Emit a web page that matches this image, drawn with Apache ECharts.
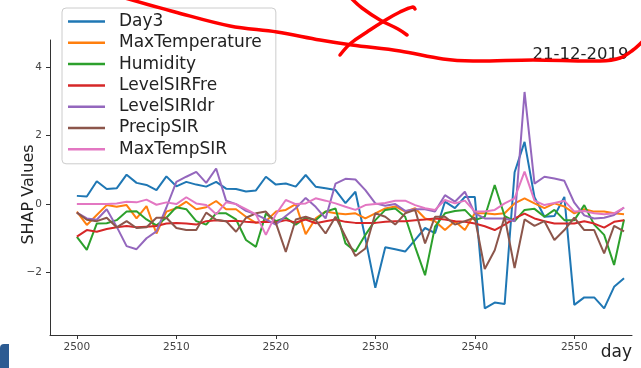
<!DOCTYPE html>
<html>
<head>
<meta charset="utf-8">
<script src="https://cdn.jsdelivr.net/npm/echarts@6/dist/echarts.min.js"></script>
<style>
  html, body { margin: 0; padding: 0; background: #fff; }
  #chart { width: 641px; height: 368px; }
</style>
</head>
<body>
<div id="chart"></div>
<script>
// Days on the horizontal axis (2500 .. 2555)
const firstDay = 2500;
const dayCount = 56;
const days = [];
for (let i = 0; i < dayCount; i++) days.push(firstDay + i);

const seriesNames = ['Day3', 'MaxTemperature', 'Humidity', 'LevelSIRFre', 'LevelSIRIdr', 'PrecipSIR', 'MaxTempSIR'];
const seriesColors = ['#1f77b4', '#ff7f0e', '#2ca02c', '#d62728', '#9467bd', '#8c564b', '#e377c2'];

const day3 = [0.24, 0.22, 0.67, 0.44, 0.46, 0.86, 0.62, 0.56, 0.41, 0.81,
  0.52, 0.65, 0.57, 0.51, 0.65, 0.45, 0.44, 0.37, 0.40, 0.80,
  0.57, 0.60, 0.51, 0.85, 0.51, 0.46, 0.41, 0.03, 0.36, -1.0,
  -2.45, -1.26, -1.32, -1.39, -1.05, -0.70, -0.85, 0.07, -0.12, 0.21,
  0.21, -3.05, -2.88, -2.92, 0.93, 1.82, 0.20, -0.37, -0.35, 0.21,
  -2.95, -2.73, -2.73, -3.05, -2.42, -2.17];

const maxTemperature = [-0.22, -0.61, -0.32, -0.03, -0.08, -0.03, -0.42, -0.06, -0.86, -0.22,
  -0.12, 0.07, -0.15, -0.09, 0.09, -0.15, -0.15, -0.37, -0.55, -0.50,
  -0.22, -0.17, 0.00, -0.88, -0.42, -0.22, -0.27, -0.30, -0.27, -0.42,
  -0.27, -0.13, -0.07, -0.22, -0.12, -0.42, -0.50, -0.76, -0.50, -0.76,
  -0.27, -0.27, -0.30, -0.27, 0.02, 0.17, 0.02, -0.12, 0.02, -0.07,
  -0.27, -0.15, -0.22, -0.22, -0.27, -0.30];

const humidity = [-0.96, -1.34, -0.57, -0.56, -0.47, -0.22, -0.21, -0.45, -0.62, -0.40,
  -0.09, -0.15, -0.50, -0.60, -0.27, -0.27, -0.45, -1.05, -1.25, -0.28,
  -0.50, -0.40, -0.60, -0.40, -0.47, -0.22, -0.13, -1.15, -1.39, -0.90,
  -0.47, -0.17, -0.13, -0.37, -1.25, -2.08, -0.66, -0.27, -0.20, -0.17,
  -0.47, -0.37, 0.56, -0.35, -0.50, -0.17, -0.14, -0.37, -0.17, -0.47,
  -0.47, -0.03, -0.60, -0.90, -1.78, -0.45];

const levelSIRFre = [-0.95, -0.76, -0.81, -0.73, -0.68, -0.64, -0.68, -0.66, -0.64, -0.57,
  -0.55, -0.57, -0.60, -0.50, -0.47, -0.50, -0.49, -0.52, -0.54, -0.52,
  -0.54, -0.47, -0.54, -0.45, -0.56, -0.50, -0.45, -0.52, -0.55, -0.55,
  -0.55, -0.52, -0.50, -0.50, -0.47, -0.45, -0.42, -0.45, -0.50, -0.52,
  -0.57, -0.65, -0.76, -0.60, -0.42, -0.28, -0.42, -0.50, -0.57, -0.57,
  -0.57, -0.50, -0.57, -0.69, -0.52, -0.47];

const levelSIRIdr = [-0.25, -0.42, -0.46, -0.15, -0.66, -1.23, -1.32, -1.00, -0.80, -0.10,
  0.65, 0.80, 0.94, 0.62, 1.04, 0.10, 0.00, -0.20, -0.30, -0.45,
  -0.60, -0.35, -0.12, 0.18, -0.08, -0.42, 0.60, 0.74, 0.72, 0.41,
  0.02, -0.05, 0.00, -0.20, -0.15, -0.15, -0.22, 0.26, 0.07, 0.36,
  -0.27, -0.42, -0.42, -0.42, -0.50, 3.28, 0.60, 0.80, 0.75, 0.68,
  0.04, -0.33, -0.42, -0.40, -0.32, -0.10];

const precipSIR = [-0.25, -0.46, -0.50, -0.40, -0.68, -0.50, -0.70, -0.68, -0.40, -0.40,
  -0.70, -0.76, -0.76, -0.25, -0.46, -0.50, -0.81, -0.40, -0.27, -0.22,
  -0.55, -1.40, -0.45, -0.37, -0.47, -0.86, -0.37, -0.95, -1.52, -1.30,
  -0.27, -0.37, -0.60, -0.27, -0.17, -1.15, -0.37, -0.37, -0.60, -0.50,
  -0.40, -1.90, -1.35, -0.37, -1.87, -0.45, -0.64, -0.50, -1.05, -0.76,
  -0.40, -0.76, -0.76, -1.44, -0.64, -0.80];

const maxTempSIR = [0.00, 0.00, 0.00, 0.00, 0.02, 0.07, 0.05, 0.13, -0.02, 0.05,
  0.00, 0.20, 0.02, -0.03, -0.30, 0.05, 0.00, -0.15, -0.30, -0.90,
  -0.30, 0.12, 0.00, 0.02, 0.17, 0.10, 0.02, -0.08, -0.17, -0.03,
  0.00, 0.03, 0.10, 0.10, -0.03, -0.12, -0.17, 0.12, 0.02, 0.10,
  -0.22, -0.22, -0.17, 0.02, 0.17, 0.95, 0.10, -0.03, 0.03, 0.10,
  -0.22, -0.20, -0.27, -0.30, -0.27, -0.10];

const seriesValues = [day3, maxTemperature, humidity, levelSIRFre, levelSIRIdr, precipSIR, maxTempSIR];

const xTicks = [2500, 2510, 2520, 2530, 2540, 2550];
const yTicks = [-2, 0, 2, 4];

// Marked date
const markerDay = 2546;
const markerText = '21-12-2019';

const font = 'DejaVu Sans';

const series = seriesNames.map((name, k) => {
  const s = {
    name: name,
    type: 'line',
    data: days.map((d, i) => [d, seriesValues[k][i]]),
    symbol: 'none',
    showSymbol: false,
    lineStyle: { width: 2, color: seriesColors[k] },
    itemStyle: { color: seriesColors[k] },
    animation: false,
    z: 2 + k
  };
  if (k === 0) {
    s.markLine = {
      silent: true,
      symbol: 'none',
      label: { show: false },
      lineStyle: { type: [2, 3], color: '#4f86bd', width: 1.5 },
      data: [[{ coord: [markerDay, -3.2] }, { coord: [markerDay, 4.85] }]]
    };
    s.markPoint = {
      silent: true,
      symbol: 'rect',
      symbolSize: 0,
      data: [{ coord: [markerDay, 4.36] }],
      label: {
        show: true, position: 'right', distance: -2,
        formatter: markerText, fontFamily: font, fontSize: 16.5, color: '#222'
      }
    };
  }
  return s;
});

const chart = echarts.init(document.getElementById('chart'), null, { renderer: 'canvas' });
chart.setOption({
  animation: false,
  backgroundColor: '#ffffff',
  textStyle: { fontFamily: font },
  grid: { left: 50, right: 9, top: 40, bottom: 33, containLabel: false },
  legend: {
    orient: 'vertical',
    left: 62, top: 8,
    padding: [5, 14, 6, 6],
    icon: 'rect',
    itemWidth: 37, itemHeight: 2.5, itemGap: 4.3,
    backgroundColor: 'rgba(255,255,255,0.85)',
    borderColor: '#cccccc', borderWidth: 1, borderRadius: 4,
    textStyle: { fontFamily: font, fontSize: 17, lineHeight: 15.3, color: '#222', padding: [0, 0, 0, 9] },
    data: seriesNames,
    z: 20
  },
  xAxis: {
    type: 'value',
    min: 2497.3, max: 2555.8,
    name: 'day',
    nameLocation: 'end',
    nameGap: 0,
    nameTextStyle: { fontFamily: font, fontSize: 17, color: '#222', align: 'right', verticalAlign: 'top', padding: [9, 0, 0, 0] },
    axisLine: { show: true, onZero: false, lineStyle: { color: '#333', width: 1 } },
    axisTick: { show: true, inside: false, length: 4, lineStyle: { color: '#333' }, customValues: xTicks },
    axisLabel: { fontFamily: font, fontSize: 10.5, color: '#444', margin: 7, customValues: xTicks, formatter: v => String(v) },
    splitLine: { show: false }
  },
  yAxis: {
    type: 'value',
    min: -3.83, max: 4.8,
    name: 'SHAP Values',
    nameLocation: 'middle',
    nameGap: 13,
    nameMoveOverlap: false,
    nameTextStyle: { fontFamily: font, fontSize: 16, color: '#222', padding: [0, 14, 0, 0] },
    axisLine: { show: true, onZero: false, lineStyle: { color: '#333', width: 1 } },
    axisTick: { show: true, inside: false, length: 4, lineStyle: { color: '#333' }, customValues: yTicks },
    axisLabel: {
      fontFamily: font, fontSize: 10.5, color: '#444', margin: 8, customValues: yTicks,
      formatter: v => (v < 0 ? '\u2212' + Math.abs(v) : String(v))
    },
    splitLine: { show: false }
  },
  series: series,
  graphic: [
    // hand-drawn red strokes across the top
    {
      type: 'polyline', z: 100, silent: true,
      shape: { points: [[125, -2], [175, 12], [230, 26], [277, 32], [320, 40], [352, 45], [400, 51], [443, 59], [473, 61], [533, 60], [600, 61], [620, 58], [633, 50], [642, 42]], smooth: 0.35 },
      style: { stroke: '#ff0000', lineWidth: 3.5, fill: null, lineCap: 'round', lineJoin: 'round' }
    },
    {
      type: 'polyline', z: 100, silent: true,
      shape: { points: [[352, -1], [362, 8], [380, 20], [398, 29], [407, 35]], smooth: 0.4 },
      style: { stroke: '#ff0000', lineWidth: 3.5, fill: null, lineCap: 'round' }
    },
    {
      type: 'polyline', z: 100, silent: true,
      shape: { points: [[340, 55], [351, 43], [367, 32], [384, 21], [400, 12], [413, 7], [415, 9]], smooth: 0.4 },
      style: { stroke: '#ff0000', lineWidth: 3.5, fill: null, lineCap: 'round' }
    },
    // dark blue fragment in the lower left corner
    {
      type: 'rect', z: 100, silent: true,
      shape: { x: 0, y: 344, width: 9, height: 24, r: [4, 0, 0, 0] },
      style: { fill: '#2c5b92' }
    }
  ]
});
</script>
</body>
</html>
